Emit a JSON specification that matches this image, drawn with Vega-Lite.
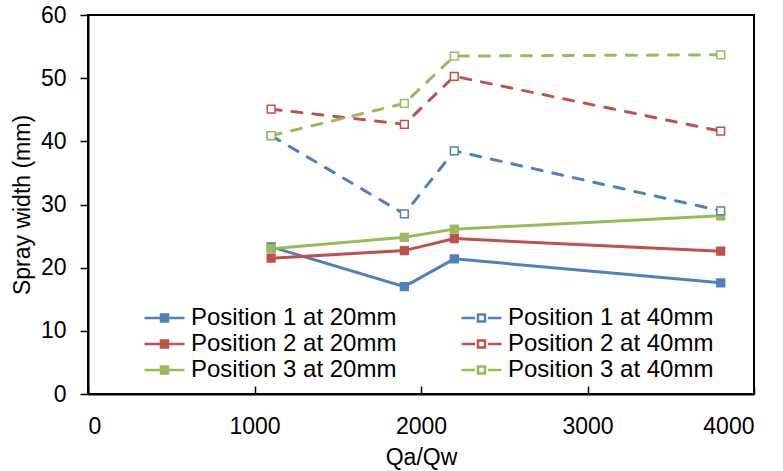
{
  "$schema": "https://vega.github.io/schema/vega-lite/v6.json",
  "width": 666,
  "height": 379,
  "autosize": {"type": "none"},
  "padding": {"left": 88, "top": 15, "right": 29, "bottom": 77},
  "background": "white",
  "config": {
    "font": "Liberation Sans",
    "view": {"stroke": "black", "strokeWidth": 2},
    "axis": {"grid": false, "domainColor": "black", "domainWidth": 2, "tickColor": "black", "tickWidth": 1.5, "labelColor": "black", "titleColor": "black", "labelFontSize": 23, "titleFontSize": 23, "titleFontWeight": "normal", "labelFont": "Liberation Sans", "titleFont": "Liberation Sans"}
  },
  "data": {"values": [
    {"x": 1100, "y": 23.3, "series": "Position 1 at 20mm", "dist": "20mm"},
    {"x": 1900, "y": 17.0, "series": "Position 1 at 20mm", "dist": "20mm"},
    {"x": 2200, "y": 21.4, "series": "Position 1 at 20mm", "dist": "20mm"},
    {"x": 3800, "y": 17.6, "series": "Position 1 at 20mm", "dist": "20mm"},
    {"x": 1100, "y": 21.5, "series": "Position 2 at 20mm", "dist": "20mm"},
    {"x": 1900, "y": 22.7, "series": "Position 2 at 20mm", "dist": "20mm"},
    {"x": 2200, "y": 24.6, "series": "Position 2 at 20mm", "dist": "20mm"},
    {"x": 3800, "y": 22.6, "series": "Position 2 at 20mm", "dist": "20mm"},
    {"x": 1100, "y": 23.0, "series": "Position 3 at 20mm", "dist": "20mm"},
    {"x": 1900, "y": 24.8, "series": "Position 3 at 20mm", "dist": "20mm"},
    {"x": 2200, "y": 26.1, "series": "Position 3 at 20mm", "dist": "20mm"},
    {"x": 3800, "y": 28.2, "series": "Position 3 at 20mm", "dist": "20mm"},
    {"x": 1100, "y": 40.9, "series": "Position 1 at 40mm", "dist": "40mm"},
    {"x": 1900, "y": 28.5, "series": "Position 1 at 40mm", "dist": "40mm"},
    {"x": 2200, "y": 38.5, "series": "Position 1 at 40mm", "dist": "40mm"},
    {"x": 3800, "y": 29.0, "series": "Position 1 at 40mm", "dist": "40mm"},
    {"x": 1100, "y": 45.1, "series": "Position 2 at 40mm", "dist": "40mm"},
    {"x": 1900, "y": 42.7, "series": "Position 2 at 40mm", "dist": "40mm"},
    {"x": 2200, "y": 50.3, "series": "Position 2 at 40mm", "dist": "40mm"},
    {"x": 3800, "y": 41.6, "series": "Position 2 at 40mm", "dist": "40mm"},
    {"x": 1100, "y": 40.9, "series": "Position 3 at 40mm", "dist": "40mm"},
    {"x": 1900, "y": 46.0, "series": "Position 3 at 40mm", "dist": "40mm"},
    {"x": 2200, "y": 53.5, "series": "Position 3 at 40mm", "dist": "40mm"},
    {"x": 3800, "y": 53.7, "series": "Position 3 at 40mm", "dist": "40mm"}
  ]},
  "encoding": {
    "x": {"field": "x", "type": "quantitative", "scale": {"domain": [0, 4000], "nice": false},
      "axis": {"title": "Qa/Qw", "values": [0, 1000, 2000, 3000, 4000], "format": "d", "tickSize": -8, "labelPadding": 29, "titlePadding": 8}},
    "y": {"field": "y", "type": "quantitative", "scale": {"domain": [0, 60], "nice": false},
      "axis": {"title": "Spray width (mm)", "values": [0, 10, 20, 30, 40, 50, 60], "tickSize": 8, "labelPadding": 14, "titlePadding": 6}}
  },
  "layer": [
    {
      "transform": [{"filter": "datum.dist === '20mm'"}],
      "mark": {"type": "line", "strokeWidth": 3, "strokeCap": "round"},
      "encoding": {
        "stroke": {"field": "series", "type": "nominal",
          "scale": {"domain": ["Position 1 at 20mm", "Position 2 at 20mm", "Position 3 at 20mm", "Position 1 at 40mm", "Position 2 at 40mm", "Position 3 at 40mm"],
                    "range": ["#4F81BD", "#C0504D", "#9BBB59", "#4F81BD", "#C0504D", "#9BBB59"]},
          "legend": {"title": null, "orient": "none", "legendX": 55, "legendY": 290, "columns": 2, "columnPadding": 63, "rowPadding": 0, "clipHeight": 26,
            "labelFontSize": 24, "labelFont": "Liberation Sans", "labelColor": "black", "labelLimit": 0, "labelOffset": 5,
            "symbolSize": 1600, "symbolStrokeWidth": 2.5,
            "encode": {"symbols": {"update": {"shape": {"signal": "indexof(datum.value, '40mm') >= 0 ? 'M-1,0H-0.32M0.32,0H1M-0.175,-0.175H0.175V0.175H-0.175Z' : 'M-1,0H1M-0.175,-0.175H0.175V0.175H-0.175Z'"}}}}}}
      }
    },
    {
      "transform": [{"filter": "datum.dist === '40mm'"}],
      "mark": {"type": "line", "strokeWidth": 3, "strokeCap": "round", "strokeDash": [10, 11]},
      "encoding": {
        "stroke": {"field": "series", "type": "nominal"}
      }
    },
    {
      "mark": {"type": "point", "shape": "square", "size": 60, "strokeWidth": 1.5, "opacity": 1, "filled": true},
      "encoding": {
        "stroke": {"field": "series", "type": "nominal"},
        "fill": {"field": "series", "type": "nominal",
          "scale": {"domain": ["Position 1 at 20mm", "Position 2 at 20mm", "Position 3 at 20mm", "Position 1 at 40mm", "Position 2 at 40mm", "Position 3 at 40mm"],
                    "range": ["#4F81BD", "#C0504D", "#9BBB59", "white", "white", "white"]}}
      }
    }
  ]
}
